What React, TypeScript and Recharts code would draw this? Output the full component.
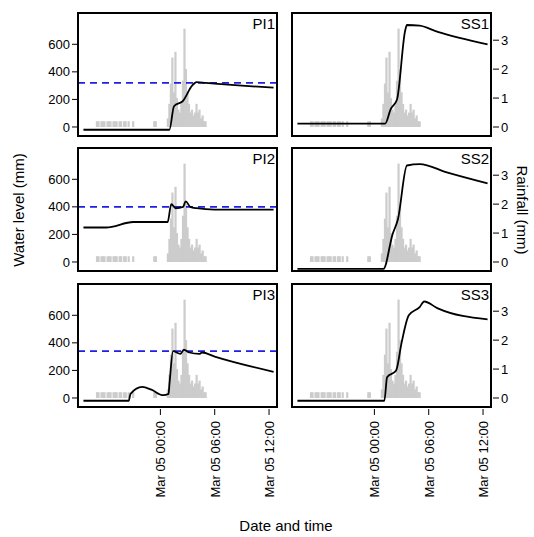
import { Bar, ComposedChart, Line, ReferenceLine, XAxis, YAxis } from "recharts";

// hours relative to Mar 05 00:00
const rainTime = [
  -7, -6.83, -6.5, -6.33, -6.17, -5.83, -5.67, -5.5, -5.17, -5, -4.83, -4.5, -4.33, -4, -3.83, -3.5, -3, -0.67, -0.5,
  0.83, 1, 1.17, 1.33, 1.5, 1.67, 1.83, 2, 2.17, 2.33, 2.5, 2.67, 2.83, 3, 3.17, 3.33, 3.5, 3.67, 3.83, 4, 4.17,
  4.33, 4.5, 4.67, 4.83, 5,
];
const rainMm = [
  0.2, 0.2, 0.2, 0.2, 0.2, 0.2, 0.2, 0.2, 0.2, 0.2, 0.2, 0.2, 0.2, 0.2, 0.2, 0.2, 0.2, 0.2, 0.2,
  0.3, 0.8, 1.5, 2.4, 1.2, 2.6, 1.0, 0.6, 0.5, 0.8, 1.6, 3.4, 2.0, 1.2, 0.8, 0.5, 0.6, 0.4, 0.5, 0.8, 0.5,
  0.6, 0.3, 0.4, 0.2, 0.2,
];

const panels = [
  { name: "PI1", ref: 320, t: [-8.5, 1.0, 1.5, 2.5, 3.5, 4.0, 5.0, 9.0, 12.5], w: [-20, -20, 150, 190, 300, 325, 320, 300, 285] },
  { name: "SS1", t: [-8.5, 1.2, 1.8, 2.5, 3.4, 3.6, 5.0, 7.0, 12.5], w: [25, 25, 130, 200, 700, 740, 735, 690, 600] },
  { name: "PI2", ref: 400, t: [-8.5, -6, -3, 0.8, 1.2, 1.7, 2.5, 2.8, 3.3, 4.0, 6.0, 12.5], w: [250, 250, 290, 290, 420, 390, 400, 440, 400, 390, 380, 380] },
  { name: "SS2", t: [-8.5, 1.0, 2.0, 2.6, 3.6, 5.0, 8.0, 12.5], w: [-50, -50, 200, 310, 700, 710, 650, 570] },
  { name: "PI3", ref: 340, t: [-8.5, -3.5, -3.3, -2.0, -1.0, 0.3, 0.9, 1.0, 1.4, 2.2, 2.6, 3.2, 4.3, 4.6, 6.0, 12.5], w: [-20, -20, 30, 80, 60, 20, 30, 100, 340, 320, 350, 330, 320, 330, 300, 190] },
  { name: "SS3", t: [-8.5, 1.1, 1.4, 2.4, 3.0, 3.8, 5.0, 5.5, 7.0, 12.5], w: [-20, -20, 150, 200, 400, 600, 660, 700, 650, 570] },
];

const xTicks = [0, 6, 12];
const xTickLabels = ["Mar 05 00:00", "Mar 05 06:00", "Mar 05 12:00"];
const wTicks = [0, 200, 400, 600];
const rTicks = [0, 1, 2, 3];

const FONT = "'Liberation Sans', Arial, sans-serif";
const PW = 201;
const PH = 125;
const colX = [78, 292];
const rowY = [13, 148, 284];

function buildData(p: (typeof panels)[number]) {
  const rows: { t: number; w?: number; r?: number }[] = [];
  p.t.forEach((t, i) => rows.push({ t, w: p.w[i] }));
  rainTime.forEach((t, i) => rows.push({ t, r: rainMm[i] }));
  return rows.sort((a, b) => a.t - b.t);
}

function RotTick(props: any) {
  const { x, y, payload } = props;
  const i = xTicks.indexOf(payload.value);
  return (
    <text x={x + 5} y={y + 4} transform={`rotate(-90 ${x + 5} ${y + 4})`} textAnchor="end" fontSize={13} fill="#000" fontFamily={FONT}>
      {xTickLabels[i]}
    </text>
  );
}

function RainBar(props: any) {
  const { x, y, width, height } = props;
  if (!height || height <= 0) return <g />;
  return <rect x={x + width / 2 - 1.1} y={y} width={2.2} height={height} fill="#cccccc" />;
}

function Panel({ p, idx }: { p: (typeof panels)[number]; idx: number }) {
  const col = idx % 2;
  const row = Math.floor(idx / 2);
  const axW = 34;
  const xH = row === 2 ? 110 : 0;
  const left = col === 0 ? colX[0] - axW : colX[1];
  const width = PW + axW;
  return (
    <div style={{ position: "absolute", left, top: rowY[row] }}>
      <ComposedChart width={width} height={PH + xH} data={buildData(p)} margin={{ top: 0, right: 0, bottom: 0, left: 0 }}>
        <XAxis
          dataKey="t"
          type="number"
          domain={[-9.1, 13.1]}
          ticks={xTicks}
          hide={row !== 2}
          height={xH}
          axisLine={false}
          tickSize={6}
          tickLine={{ stroke: "#000" }}
          tick={<RotTick />}
          interval={0}
          allowDataOverflow
        />
        <YAxis
          yAxisId="w"
          domain={[-80, 827]}
          ticks={wTicks}
          hide={col !== 0}
          width={axW}
          axisLine={false}
          tickSize={6}
          tickLine={{ stroke: "#000" }}
          tick={{ fontSize: 13, fill: "#000", fontFamily: FONT }}
          allowDataOverflow
        />
        <YAxis
          yAxisId="r"
          orientation="right"
          domain={[-0.38, 3.94]}
          ticks={rTicks}
          hide={col !== 1}
          width={axW}
          axisLine={false}
          tickSize={6}
          tickLine={{ stroke: "#000" }}
          tick={{ fontSize: 13, fill: "#000", fontFamily: FONT }}
          allowDataOverflow
        />
        <Bar yAxisId="r" dataKey="r" fill="#cccccc" shape={<RainBar />} isAnimationActive={false} />
        {p.ref !== undefined && (
          <ReferenceLine yAxisId="w" y={p.ref} stroke="#1f1fe6" strokeWidth={1.8} strokeDasharray="7 5" />
        )}
        <Line yAxisId="w" dataKey="w" stroke="#000" strokeWidth={1.8} dot={false} connectNulls type="monotone" isAnimationActive={false} />
      </ComposedChart>
      <div
        style={{
          position: "absolute",
          left: col === 0 ? axW - 1 : -1,
          top: -1,
          width: PW,
          height: PH,
          border: "2px solid #000",
          boxSizing: "border-box",
          pointerEvents: "none",
        }}
      />
      <div style={{ position: "absolute", left: (col === 0 ? axW : 0) + PW - 40, top: 2, width: 36, textAlign: "right", fontSize: 15, fontFamily: FONT }}>
        {p.name}
      </div>
    </div>
  );
}

export default function App() {
  return (
    <div style={{ position: "absolute", left: 0, top: 0, width: 534, height: 537, background: "#fff", fontFamily: FONT }}>
      {panels.map((p, i) => (
        <Panel key={p.name} p={p} idx={i} />
      ))}
      <div style={{ position: "absolute", left: 18, top: 210, transform: "translate(-50%,-50%) rotate(-90deg)", fontSize: 15, whiteSpace: "nowrap" }}>
        Water level (mm)
      </div>
      <div style={{ position: "absolute", left: 522, top: 210, transform: "translate(-50%,-50%) rotate(90deg)", fontSize: 15, whiteSpace: "nowrap" }}>
        Rainfall (mm)
      </div>
      <div style={{ position: "absolute", left: 286, top: 525, transform: "translate(-50%,-50%)", fontSize: 15, whiteSpace: "nowrap" }}>
        Date and time
      </div>
    </div>
  );
}
